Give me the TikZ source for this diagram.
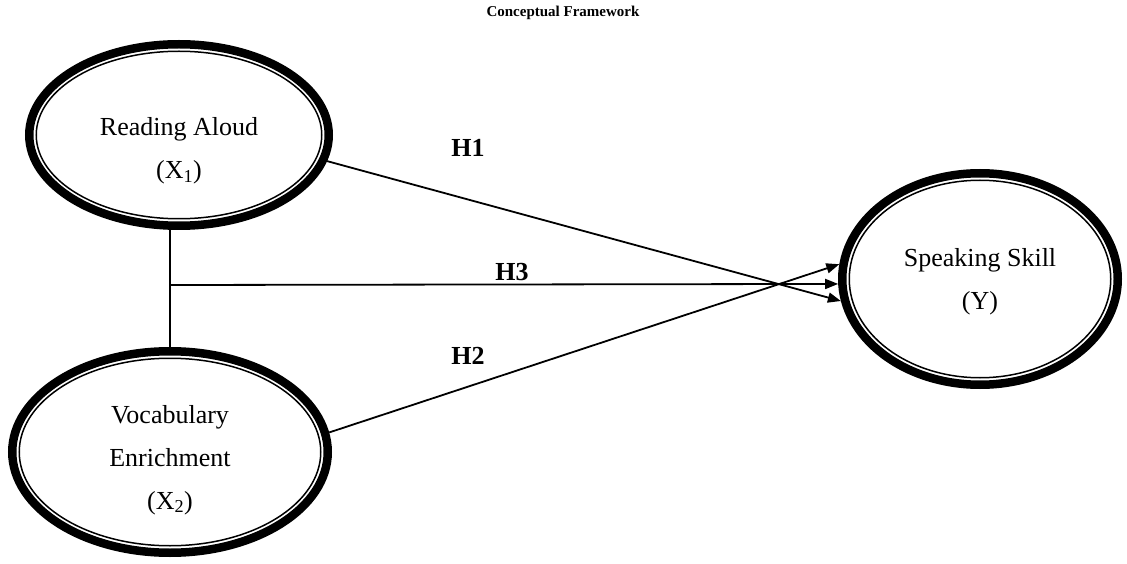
\documentclass[tikz,border=0pt]{standalone}
\usepackage{fontspec}
\setmainfont{Liberation Serif}
\usetikzlibrary{arrows.meta,shapes.geometric}
\begin{document}
\begin{tikzpicture}[x=1pt,y=1pt,
  outerell/.style={ellipse, draw=black, line width=8.5pt, inner sep=0pt},
  innerell/.style={draw=black, line width=1.5pt},
  lbl/.style={font=\fontsize{26}{43}\selectfont, align=center, inner sep=0pt},
  hlab/.style={font=\fontsize{26}{30}\selectfont\bfseries, inner sep=0pt},
  conn/.style={draw=black, line width=1.8pt},
  arr/.style={conn, -{Triangle[length=13pt,width=10pt]}}]
\useasboundingbox (0,0) rectangle (1127,563);

\node[font=\fontsize{15}{18}\selectfont\bfseries, inner sep=0pt] (title) at (563,550) {Conceptual Framework};

% ellipses
\node[outerell, minimum width=299.5pt, minimum height=181.5pt] (ra) at (179,428) {};
\draw[innerell] (ra.center) ellipse [x radius=142.75, y radius=83.75];
\node[lbl] (ratxt) at (179,412) {Reading Aloud\\(X\textsubscript{1})};

\node[outerell, minimum width=315.5pt, minimum height=201.5pt] (vb) at (170,111) {};
\draw[innerell] (vb.center) ellipse [x radius=150.75, y radius=93.75];
\node[lbl] (vbtxt) at (170,103) {Vocabulary\\Enrichment\\(X\textsubscript{2})};

\node[outerell, minimum width=275.5pt, minimum height=211.5pt] (ss) at (980,284) {};
\draw[innerell] (ss.center) ellipse [x radius=130.75, y radius=98.75];
\node[lbl] (sstxt) at (980,281) {Speaking Skill\\(Y)};

% connectors
\draw[conn] (vb.north) -- (vb.north |- ra.south);
\coordinate (j) at (vb.north |- 0,278);
\draw[arr] (ra.-10.4) -- (ss.189.3);
\draw[arr] (vb.7.2) -- (ss.174.4);
\draw[arr] (j) -- (ss.182.3);

% labels
\node[hlab] (h1) at (468,415) {H1};
\node[hlab] (h3) at (512,291) {H3};
\node[hlab] (h2) at (468,207) {H2};
\end{tikzpicture}
\end{document}
